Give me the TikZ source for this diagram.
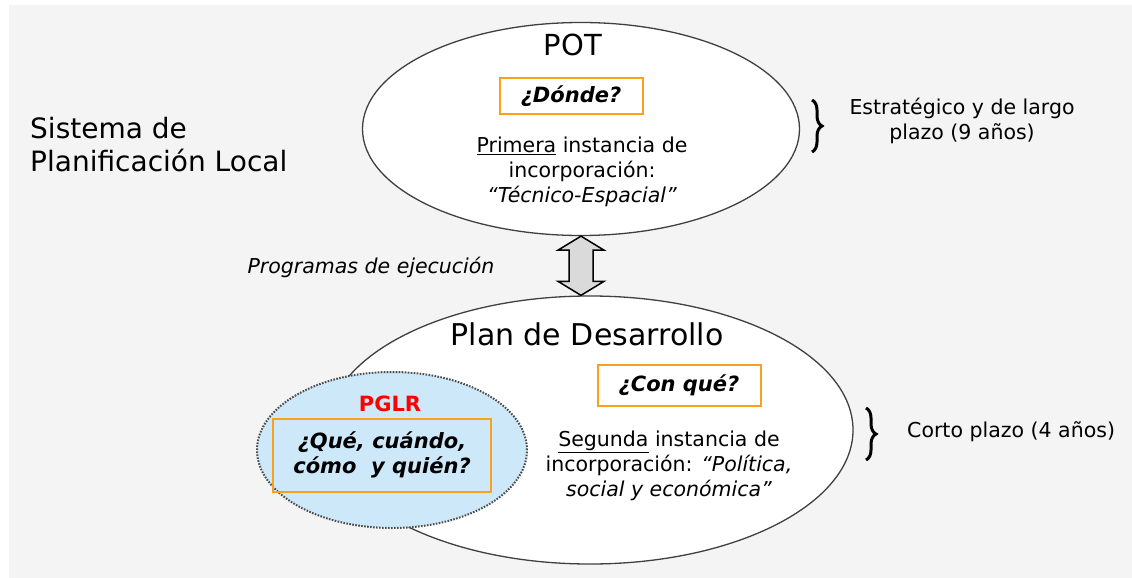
\documentclass[tikz,border=0pt]{standalone}
\usepackage{fontspec}
\setmainfont{DejaVu Sans}
\usepackage{tikz}
\usetikzlibrary{shapes,arrows.meta}
\usetikzlibrary{calc,decorations.pathreplacing}
\definecolor{fondo}{HTML}{F4F4F4}
\definecolor{celeste}{HTML}{CDE8F9}
\definecolor{naranja}{HTML}{F9A11B}
\definecolor{flecha}{HTML}{DADADA}

\begin{document}
\begin{tikzpicture}[x=1pt,y=-1pt,
  circulo/.style={ellipse,draw=black!75,line width=1.3pt,fill=white,inner sep=0pt},
  pregunta/.style={draw=naranja,line width=2pt,inner sep=0pt,align=center,font=\fontsize{21}{25}\selectfont\bfseries\itshape},
  texto/.style={inner sep=0pt,align=center,font=\fontsize{20.5}{25}\selectfont},
  llave/.style={decorate,decoration={brace,amplitude=10pt},line width=3pt}]
\useasboundingbox (0,0) rectangle (1132,578);
\fill[fondo] (9,5) rectangle (1132,578);
\node[circulo,minimum width=437pt,minimum height=213pt] (pot) at (581,129) {};
\node[circulo,minimum width=526pt,minimum height=268pt] (plan) at (590,430) {};
\node[circulo,draw=black!70,fill=celeste,line width=2pt,dash pattern=on 1.6pt off 1.4pt,minimum width=270pt,minimum height=156pt] (pglr) at (392,450) {};
\node[inner sep=0pt,align=left,anchor=west,font=\fontsize{28}{33}\selectfont] (sistema) at (30,145) {Sistema de\\Planificación Local};
\node[inner sep=0pt,font=\fontsize{29}{33}\selectfont] (titulopot) at (573,45) {POT};
\node[pregunta,minimum width=143pt,minimum height=36pt] (donde) at (571,96) {¿Dónde?};
\node[texto] (primera) at (582,172) {\underline{Primera} instancia de\\incorporación:\\\textit{“Técnico-Espacial”}};
\coordinate (arriba) at (pot.south);
\coordinate (abajo) at (arriba |- plan.north);
\draw[line width=1.5pt,fill=flecha] (arriba) -- ($(arriba)+(23,14)$) -- ($(arriba)+(12,14)$) -- ($(abajo)+(12,-14)$) -- ($(abajo)+(23,-14)$) -- (abajo) -- ($(abajo)+(-23,-14)$) -- ($(abajo)+(-12,-14)$) -- ($(arriba)+(-12,14)$) -- ($(arriba)+(-23,14)$) -- cycle;
\node[texto,font=\fontsize{20.5}{25}\selectfont\itshape] (programas) at (371,267) {Programas de ejecución};
\node[inner sep=0pt,font=\fontsize{30}{34}\selectfont] (tituloplan) at (587,334) {Plan de Desarrollo};
\node[pregunta,minimum width=163pt,minimum height=41pt] (conque) at (679,385) {¿Con qué?};
\node[texto] (segunda) at (669,466) {\underline{Segunda} instancia de\\incorporación: \textit{“Política,}\\\textit{social y económica”}};
\node[inner sep=0pt,text=red,font=\fontsize{21}{25}\selectfont\bfseries] (titulopglr) at (390,404) {PGLR};
\node[pregunta,minimum width=218pt,minimum height=73pt] (quien) at (382,455) {¿Qué, cuándo,\\cómo\ \ y quién?};
\draw[llave] (812,100) -- (812,152);
\draw[llave] (866,408) -- (866,460);
\node[texto] (estrategico) at (962,121) {Estratégico y de largo\\plazo (9 años)};
\node[texto,anchor=west] (corto) at (907,432) {Corto plazo (4 años)};
\end{tikzpicture}
\end{document}
